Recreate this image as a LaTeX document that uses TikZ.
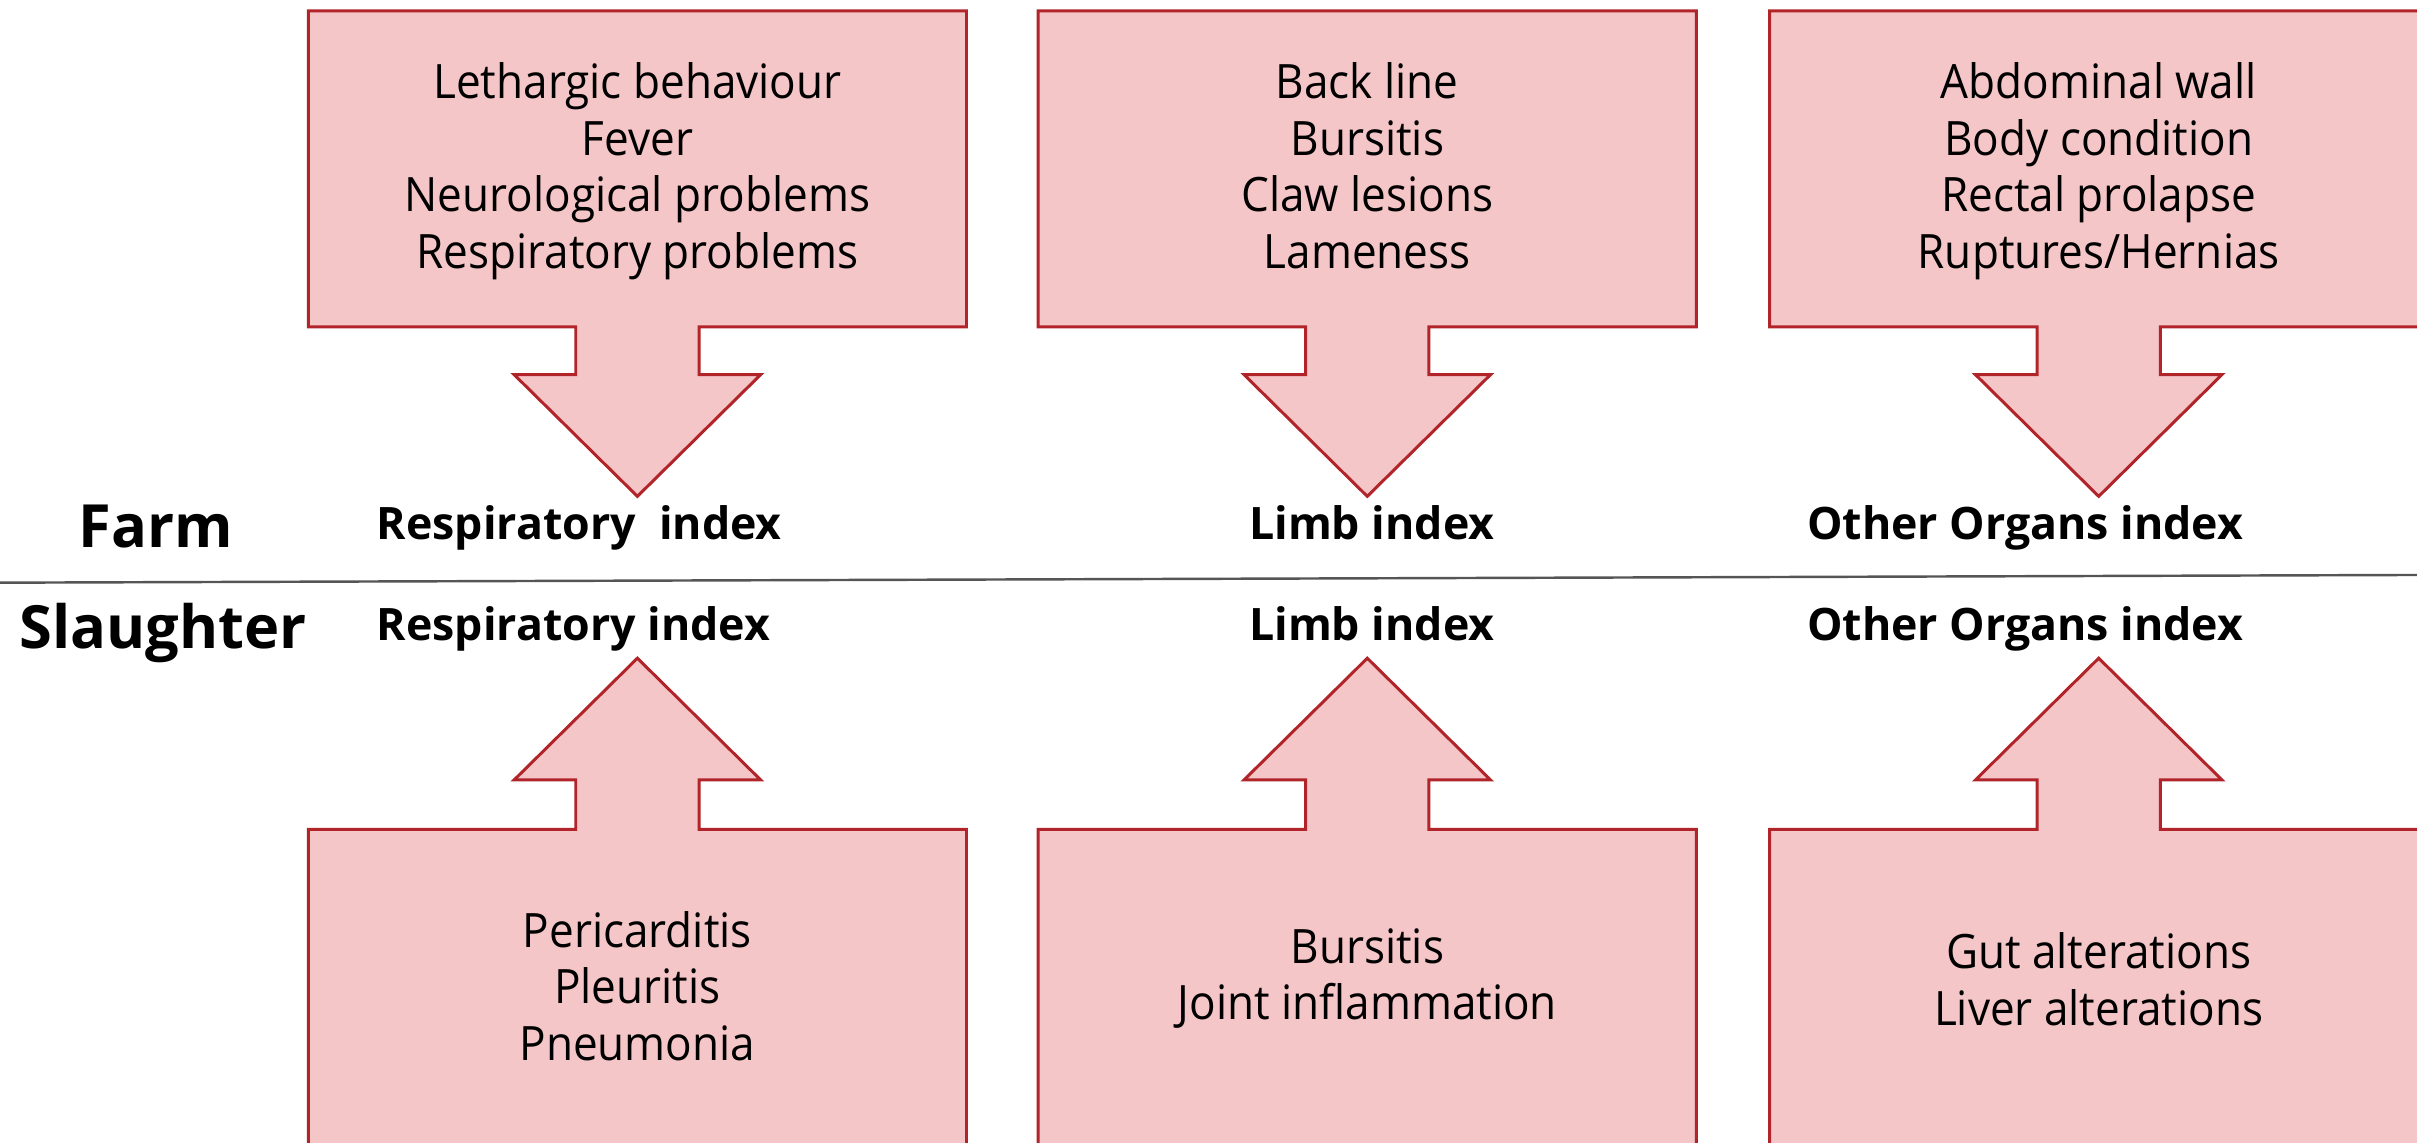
\documentclass[tikz,border=0pt]{standalone}
\usepackage{fontspec}
\setmainfont{Open Sans}
\newfontfamily\itemfont{Open Sans}[FakeStretch=0.93]
\usepackage{tikz}

%Colors
\definecolor{calloutfill}{RGB}{245,198,199}
\definecolor{calloutline}{RGB}{176,36,42}
\definecolor{dividerline}{RGB}{85,85,85}

%Callout boxes (centre x)
\newcommand{\downarrowbox}[1]{%
  \filldraw[callout] ({#1-213.5},7) -- ({#1+213.5},7) -- ({#1+213.5},212) -- ({#1+40},212) -- ({#1+40},243) -- ({#1+80},243) -- (#1,322) -- ({#1-80},243) -- ({#1-40},243) -- ({#1-40},212) -- ({#1-213.5},212) -- cycle;}
\newcommand{\uparrowbox}[1]{%
  \filldraw[callout] ({#1-213.5},760) -- ({#1-213.5},538) -- ({#1-40},538) -- ({#1-40},506) -- ({#1-80},506) -- (#1,427) -- ({#1+80},506) -- ({#1+40},506) -- ({#1+40},538) -- ({#1+213.5},538) -- ({#1+213.5},760) -- cycle;}

\begin{document}
\begin{tikzpicture}
		[x=0.02cm,y=-0.02cm,line join=miter,
		%Styles
		callout/.style={draw=calloutline,fill=calloutfill,line width=1.1pt},
		item text/.style={align=center,inner sep=0pt,font=\itemfont\fontsize{17.5}{20.9}\selectfont},
		index text/.style={anchor=base west,inner sep=0pt,font=\fontsize{16.5}{19.5}\selectfont\bfseries},
		stage text/.style={anchor=base west,inner sep=0pt,font=\fontsize{22}{26}\selectfont\bfseries},
		divider/.style={draw=dividerline,line width=0.9pt}
		]
		
		\useasboundingbox (0,0) rectangle (1568,741.5);
		\clip (0,0) rectangle (1568,741.5);
		
		%The graphic
		\downarrowbox{413.5}
		\downarrowbox{887}
		\downarrowbox{1361.5}
		\uparrowbox{413.5}
		\uparrowbox{887}
		\uparrowbox{1361.5}
		
		\node[item text] (farm resp) at (413.5,111) {Lethargic behaviour\\Fever\\Neurological problems\\Respiratory problems};
		\node[item text] (farm limb) at (887,107.4) {Back line\\Bursitis\\Claw lesions\\Lameness};
		\node[item text] (farm other) at (1361.5,111) {Abdominal wall\\Body condition\\Rectal prolapse\\Ruptures/Hernias};
		
		\node[item text] (slaughter resp) at (413.5,639.6) {Pericarditis\\Pleuritis\\Pneumonia};
		\node[item text] (slaughter limb) at (887,634.8) {Bursitis\\Joint inflammation};
		\node[item text] (slaughter other) at (1361.5,635.4) {Gut alterations\\Liver alterations};
		
		\node[stage text] (farm) at (50.5,355.4) {Farm};
		\node[stage text] (slaughter) at (12.4,421) {Slaughter};
		
		\node[index text] (farm resp index) at (244,350) {Respiratory\ \ index};
		\node[index text] (farm limb index) at (810,350) {Limb index};
		\node[index text] (farm other index) at (1172,350) {Other Organs index};
		\node[index text] (slaughter resp index) at (244,415.5) {Respiratory index};
		\node[index text] (slaughter limb index) at (810,415.5) {Limb index};
		\node[index text] (slaughter other index) at (1172,415.5) {Other Organs index};
		
		\coordinate (divide west) at (0,378);
		\coordinate (divide east) at (1568,373);
		\draw[divider] (divide west) -- (divide east);
	\end{tikzpicture}
\end{document}
